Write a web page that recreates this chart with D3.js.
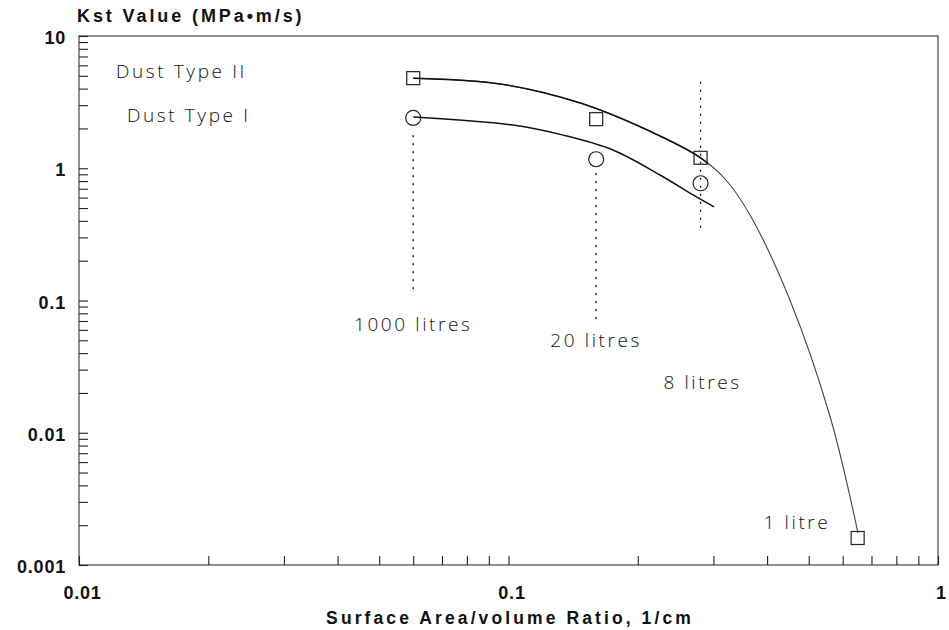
<!DOCTYPE html>
<html>
<head>
<meta charset="utf-8">
<script src="https://cdn.jsdelivr.net/npm/d3@7/dist/d3.min.js"></script>
<style>
  html, body { margin: 0; padding: 0; background: #fff; }
  svg { display: block; }
  .tick text { font-family: "Liberation Sans", Arial, sans-serif; font-weight: bold; font-size: 18px; fill: #111; letter-spacing: 0.8px; }
  .note { font-family: "Open Sans", "Liberation Sans", sans-serif; font-weight: 300; font-size: 19px; fill: #111; letter-spacing: 2.6px; }
</style>
</head>
<body>
<script>
// Measured points: surface area / volume ratio (1/cm) vs Kst (MPa·m/s)
const typeIIx = [0.06, 0.16, 0.28, 0.65];
const typeIIy = [4.8, 2.35, 1.2, 0.0016];
const typeIx = [0.06, 0.16, 0.28];
const typeIy = [2.4, 1.17, 0.77];

// Fitted trend curves
const fitIIx = [0.06, 0.0955, 0.147, 0.2253, 0.28, 0.3209, 0.365, 0.452, 0.561, 0.651];
const fitIIy = [4.8, 4.34, 3.11, 1.754, 1.2, 0.815, 0.443, 0.101, 0.01315, 0.00175];
const fitIx = [0.06, 0.1024, 0.134, 0.175, 0.2253, 0.269, 0.301];
const fitIy = [2.44, 2.12, 1.78, 1.374, 0.889, 0.628, 0.51];

// Vessel-size guide lines (dotted) and their labels
const vesselX = [0.06, 0.16, 0.28];
const vesselTop = [1.78, 0.92, 4.5];
const vesselBottom = [0.11, 0.069, 0.34];
const vesselLabels = ["1000 litres", "20 litres", "8 litres", "1 litre"];
const seriesLabels = ["Dust Type II", "Dust Type I"];

// Axes
const xDomain = [0.01, 1];
const yDomain = [0.001, 10];
const xMajor = [0.01, 0.1, 1];
const yMajor = [0.001, 0.01, 0.1, 1, 10];
const xTickLabels = ["0.01", "0.1", "1"];
const yTickLabels = ["0.001", "0.01", "0.1", "1", "10"];
const yTitle = "Kst Value (MPa\u2022m/s)";
const xTitle = "Surface Area/volume Ratio, 1/cm";

const W = 949, H = 630;
const plotL = 79, plotR = 938, plotT = 36, plotB = 565;

const svg = d3.select("body").append("svg").attr("width", W).attr("height", H);

const x = d3.scaleLog().domain(xDomain).range([plotL, plotR]);
const y = d3.scaleLog().domain(yDomain).range([plotB, plotT]);

function logTicks(domain) {
  const out = [];
  for (let e = Math.round(Math.log10(domain[0])); e < Math.round(Math.log10(domain[1])); e++) {
    for (let k = 1; k <= 9; k++) out.push(k * Math.pow(10, e));
  }
  out.push(domain[1]);
  return out;
}
const near = (a, b) => Math.abs(Math.log10(a) - Math.log10(b)) < 1e-6;

// Frame
svg.append("rect")
  .attr("x", plotL).attr("y", plotT)
  .attr("width", plotR - plotL).attr("height", plotB - plotT)
  .attr("fill", "none").attr("stroke", "#333").attr("stroke-width", 1.1);

// Y axis: inward ticks, labels on decades
const yAxis = d3.axisLeft(y)
  .tickValues(logTicks(yDomain))
  .tickSize(-9)
  .tickPadding(13)
  .tickFormat(v => {
    const i = yMajor.findIndex(m => near(m, v));
    return i >= 0 ? yTickLabels[i] : "";
  });
const gy = svg.append("g").attr("transform", `translate(${plotL},0)`).call(yAxis);
gy.select(".domain").remove();
gy.selectAll(".tick line").attr("stroke", "#222").attr("stroke-width", 1.1);
gy.selectAll(".tick text").attr("dy", "0.42em");

// X axis: inward ticks, labels on decades
const xAxis = d3.axisBottom(x)
  .tickValues(logTicks(xDomain))
  .tickSize(-9)
  .tickPadding(21)
  .tickFormat(v => {
    const i = xMajor.findIndex(m => near(m, v));
    return i >= 0 ? xTickLabels[i] : "";
  });
const gx = svg.append("g").attr("transform", `translate(0,${plotB})`).call(xAxis);
gx.select(".domain").remove();
gx.selectAll(".tick line").attr("stroke", "#222").attr("stroke-width", 1.1);
gx.selectAll(".tick text").attr("dx", "3");

// Titles
svg.append("text")
  .attr("x", 77).attr("y", 22)
  .attr("font-family", "Liberation Sans, Arial, sans-serif")
  .attr("font-weight", "bold").attr("font-size", 18)
  .attr("letter-spacing", 2.9).attr("fill", "#111")
  .text(yTitle);
svg.append("text")
  .attr("x", 510).attr("y", 624)
  .attr("text-anchor", "middle")
  .attr("font-family", "Liberation Sans, Arial, sans-serif")
  .attr("font-weight", "bold").attr("font-size", 17.5)
  .attr("letter-spacing", 3.1).attr("fill", "#111")
  .text(xTitle);

// Dotted guide lines
svg.append("g").selectAll("line")
  .data(vesselX)
  .join("line")
  .attr("x1", d => x(d)).attr("x2", d => x(d))
  .attr("y1", (d, i) => y(vesselTop[i]))
  .attr("y2", (d, i) => y(vesselBottom[i]))
  .attr("stroke", "#111").attr("stroke-width", 1.3)
  .attr("stroke-dasharray", "2,6");

// Fitted curves
const line = d3.line()
  .x(d => x(d[0])).y(d => y(d[1]))
  .curve(d3.curveCatmullRom.alpha(0.5));
const fitII = fitIIx.map((v, i) => [v, fitIIy[i]]);

// the steep tail of the Type II fit is drawn lighter; the upper part is heavier
svg.append("defs").append("clipPath").attr("id", "upperPart")
  .append("rect")
  .attr("x", plotL).attr("y", plotT)
  .attr("width", x(0.292) - plotL).attr("height", plotB - plotT);
svg.append("path")
  .datum(fitII)
  .attr("d", line)
  .attr("fill", "none").attr("stroke", "#444").attr("stroke-width", 1.1);
svg.append("path")
  .datum(fitII)
  .attr("d", line)
  .attr("clip-path", "url(#upperPart)")
  .attr("fill", "none").attr("stroke", "#111").attr("stroke-width", 1.5);
svg.append("path")
  .datum(fitIx.map((v, i) => [v, fitIy[i]]))
  .attr("d", line)
  .attr("fill", "none").attr("stroke", "#111").attr("stroke-width", 1.5);

// Markers
const sq = 13;
svg.append("g").selectAll("rect")
  .data(typeIIx.map((v, i) => [v, typeIIy[i]]))
  .join("rect")
  .attr("x", d => x(d[0]) - sq / 2).attr("y", d => y(d[1]) - sq / 2)
  .attr("width", sq).attr("height", sq)
  .attr("fill", "none").attr("stroke", "#222").attr("stroke-width", 1.2);
svg.append("g").selectAll("circle")
  .data(typeIx.map((v, i) => [v, typeIy[i]]))
  .join("circle")
  .attr("cx", d => x(d[0])).attr("cy", d => y(d[1]))
  .attr("r", 7.5)
  .attr("fill", "none").attr("stroke", "#222").attr("stroke-width", 1.2);

// Series and vessel labels
svg.append("text").attr("class", "note").attr("x", 116).attr("y", 78)
  .attr("letter-spacing", 3.5).text(seriesLabels[0]);
svg.append("text").attr("class", "note").attr("x", 127).attr("y", 122)
  .attr("letter-spacing", 3.5).text(seriesLabels[1]);

const labelPos = [[x(vesselX[0]), 331], [x(vesselX[1]), 347], [x(vesselX[2]) + 2, 389], [797, 529]];
svg.append("g").selectAll("text")
  .data(vesselLabels)
  .join("text")
  .attr("class", "note")
  .attr("text-anchor", "middle")
  .attr("x", (d, i) => labelPos[i][0])
  .attr("y", (d, i) => labelPos[i][1])
  .text(d => d);
</script>
</body>
</html>
